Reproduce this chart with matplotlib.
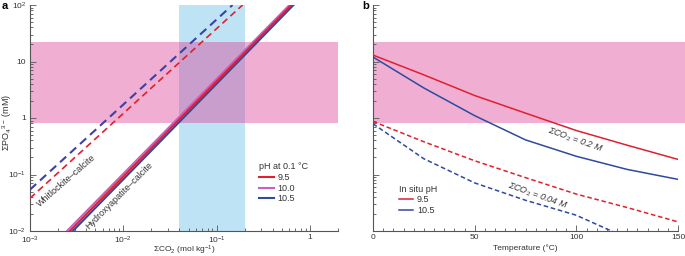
import matplotlib
matplotlib.use("Agg")
import matplotlib.pyplot as plt
from matplotlib.ticker import FixedLocator, FixedFormatter, MultipleLocator, LogLocator, NullFormatter

plt.rcParams["font.family"] = ["Liberation Sans", "DejaVu Sans"]
plt.rcParams["mathtext.fontset"] = "custom"
plt.rcParams["mathtext.rm"] = "Liberation Sans"
plt.rcParams["mathtext.it"] = "Liberation Sans:italic"
plt.rcParams["font.size"] = 6

RED = "#e0202f"
MAGENTA = "#c860c0"
BLUE = "#2e4a9e"
BLUE_DASH = "#3d40a6"
TEXT = "#333333"
SPINE = "#555555"

# ---- panel a data ----
ph_a = ["9.5", "10.0", "10.5"]
# Hydroxyapatite-calcite lines (endpoints)
hap_po4 = [0.01, 100]
hap_co2_95 = [2.68e-3, 0.634]
hap_co2_100 = [2.49e-3, 0.604]
hap_co2_105 = [2.88e-3, 0.667]
# Whitlockite-calcite lines
whit_co2_95 = [1e-3, 0.19]
whit_po4_95 = [0.038, 100]
whit_co2_105 = [1e-3, 0.148]
whit_po4_105 = [0.054, 100]
# shaded ranges
po4_range = [0.8, 22]
co2_range = [0.04, 0.2]

# ---- panel b data ----
ph_b = ["9.5", "10.5"]
temp = [0, 25, 50, 75, 100, 125, 150]
po4_02_95 = [13.0, 5.8, 2.5, 1.22, 0.6, 0.33, 0.185]
po4_02_105 = [12.0, 3.4, 1.1, 0.41, 0.21, 0.123, 0.082]
po4_004_95 = [0.87, 0.38, 0.175, 0.088, 0.045, 0.026, 0.0145]
temp_004_105 = [0, 25, 50, 75, 100, 125]
po4_004_105 = [0.79, 0.19, 0.071, 0.035, 0.019, 0.0075]

fig = plt.figure(figsize=(6.85, 2.56), dpi=100)
ax_a = fig.add_axes([30 / 685, 25 / 256, 308 / 685, 226 / 256])
ax_b = fig.add_axes([373 / 685, 25 / 256, 305 / 685, 226 / 256])


def style_axes(ax):
    for side in ("top", "right"):
        ax.spines[side].set_visible(False)
    for side in ("left", "bottom"):
        ax.spines[side].set_color(SPINE)
        ax.spines[side].set_linewidth(0.8)
    ax.tick_params(which="both", direction="in", color=SPINE, width=0.6,
                   labelcolor=TEXT, labelsize=6, pad=3)
    ax.tick_params(axis="x", pad=2.5)
    ax.tick_params(which="major", length=4)
    ax.tick_params(which="minor", length=2)


def log_y(ax, labels=True):
    ax.set_yscale("log")
    ax.set_ylim(0.01, 100)
    ax.yaxis.set_major_locator(FixedLocator([0.01, 0.1, 1, 10, 100]))
    ax.yaxis.set_minor_locator(LogLocator(base=10, subs=range(2, 10)))
    ax.yaxis.set_minor_formatter(NullFormatter())
    if labels:
        ax.yaxis.set_major_formatter(FixedFormatter(
            ["10$^{-2}$", "10$^{-1}$", "1", "10", "10$^{2}$"]))
    else:
        ax.yaxis.set_major_formatter(NullFormatter())


def style_legend(leg):
    leg._legend_box.align = "left"
    for t in leg.get_texts():
        t.set_color(TEXT)
    leg.get_title().set_color(TEXT)


# ---- panel a ----
ax = ax_a
style_axes(ax)
ax.set_xscale("log")
ax.set_xlim(1e-3, 2)
log_y(ax)
ax.xaxis.set_major_locator(FixedLocator([1e-3, 1e-2, 1e-1, 1]))
ax.xaxis.set_major_formatter(FixedFormatter(["10$^{-3}$", "10$^{-2}$", "10$^{-1}$", "1"]))
ax.xaxis.set_minor_locator(LogLocator(base=10, subs=range(2, 10)))
ax.xaxis.set_minor_formatter(NullFormatter())

ax.axvspan(co2_range[0], co2_range[1], color="#bde3f5", lw=0, zorder=0)
ax.axhspan(po4_range[0], po4_range[1], color="#db4094", alpha=0.42, lw=0, zorder=1)

ax.plot(whit_co2_95, whit_po4_95, color=RED, lw=1.2, dashes=(4, 2.5), zorder=3)
ax.plot(whit_co2_105, whit_po4_105, color=BLUE_DASH, lw=1.5, dashes=(4, 2.5), zorder=3)

ax.plot(hap_co2_100, hap_po4, color=MAGENTA, lw=1.5, zorder=3, label=ph_a[1])
ax.plot(hap_co2_95, hap_po4, color=RED, lw=1.5, zorder=4, label=ph_a[0])
ax.plot(hap_co2_105, hap_po4, color=BLUE, lw=1.5, zorder=3, label=ph_a[2])

ax.text(2.43e-3, 0.078, "Whitlockite\u2013calcite", rotation=41, ha="center",
        va="center", rotation_mode="anchor", color=TEXT, fontsize=6.5)
ax.text(9.0e-3, 0.0425, "Hydroxyapatite\u2013calcite", rotation=45, ha="center",
        va="center", rotation_mode="anchor", color=TEXT, fontsize=6.5)

handles, labels = ax.get_legend_handles_labels()
order = [labels.index(p) for p in ph_a]
leg = ax.legend([handles[i] for i in order], [labels[i] for i in order],
                title="pH at 0.1 \u00b0C", loc="upper left",
                bbox_to_anchor=(0.745, 0.305), frameon=False, fontsize=6.5,
                title_fontsize=6.5, handlelength=1.6, handletextpad=0.4,
                labelspacing=0.2, borderaxespad=0, borderpad=0)
style_legend(leg)

ax.set_xlabel("\u03a3CO$_2$ (mol kg$^{-1}$)", fontsize=6.0, color=TEXT)
ax.xaxis.set_label_coords(0.5, -0.058)
ax.set_ylabel("\u03a3PO$_4$$^{3-}$ (mM)", fontsize=6.5, color=TEXT)
ax.yaxis.set_label_coords(-0.052, 0.478)

# ---- panel b ----
ax = ax_b
style_axes(ax)
log_y(ax, labels=False)
ax.set_xlim(0, 150)
ax.xaxis.set_major_locator(MultipleLocator(50))
ax.xaxis.set_minor_locator(MultipleLocator(5))

ax.axhspan(po4_range[0], po4_range[1], xmax=1.025, color="#db4094", alpha=0.42,
           lw=0, zorder=1, clip_on=False)

ax.plot(temp, po4_02_95, color=RED, lw=1.1, zorder=3, label=ph_b[0])
ax.plot(temp, po4_02_105, color=BLUE, lw=1.1, zorder=3, label=ph_b[1])
ax.plot(temp, po4_004_95, color=RED, lw=1.1, dashes=(3, 1.8), zorder=3)
ax.plot(temp_004_105, po4_004_105, color=BLUE, lw=1.1, dashes=(3, 1.8), zorder=3)

ax.text(99.5, 0.41, "\u03a3CO$_2$ = 0.2 M", rotation=-19.5, ha="center",
        va="center", rotation_mode="anchor", color=TEXT, fontsize=6.5, style="italic")
ax.text(81, 0.0417, "\u03a3CO$_2$ = 0.04 M", rotation=-19.5, ha="center",
        va="center", rotation_mode="anchor", color=TEXT, fontsize=6.5, style="italic")

leg = ax.legend(title="In situ pH", loc="upper left", bbox_to_anchor=(0.085, 0.205),
                frameon=False, fontsize=6.5, title_fontsize=6.5, handlelength=1.6,
                handletextpad=0.4, labelspacing=0.2, borderaxespad=0, borderpad=0)
style_legend(leg)

ax.set_xlabel("Temperature (\u00b0C)", fontsize=6.0, color=TEXT)
ax.xaxis.set_label_coords(0.5, -0.058)

fig.text(2 / 685, 1 - 1 / 256, "a", fontweight="bold", fontsize=8, va="top", ha="left")
fig.text(362 / 685, 1 - 1 / 256, "b", fontweight="bold", fontsize=8, va="top", ha="left")

fig.savefig("out.png", dpi=100)
